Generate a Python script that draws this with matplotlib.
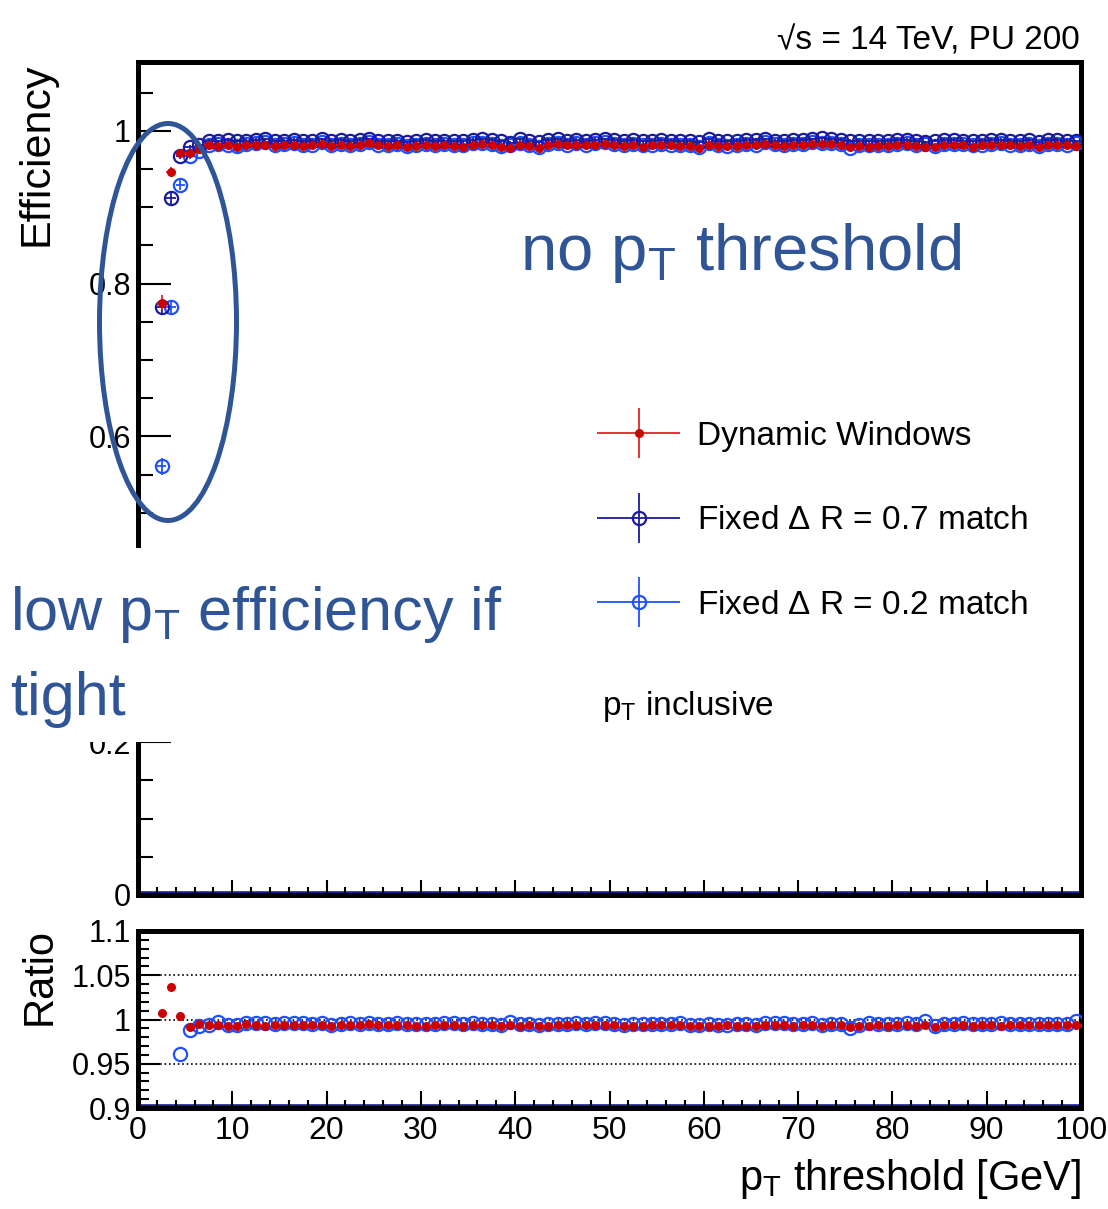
import numpy as np
import matplotlib
matplotlib.use("Agg")
import matplotlib.pyplot as plt
from matplotlib import font_manager
from matplotlib.ticker import MultipleLocator, FormatStrFormatter, FuncFormatter
from matplotlib.patches import Ellipse, Rectangle
from matplotlib.container import ErrorbarContainer
from matplotlib.legend_handler import HandlerErrorbar

plt.rcParams['font.family'] = ['Liberation Sans', 'DejaVu Sans']
plt.rcParams['mathtext.fontset'] = 'custom'
plt.rcParams['mathtext.rm'] = 'Liberation Sans'
plt.rcParams['mathtext.it'] = 'Liberation Sans:italic'
plt.rcParams['mathtext.default'] = 'regular'

# ---------------------------
# Daten
# ---------------------------
pt = np.arange(2.5, 100, 1.0)   # Bin-Mitten, 1 GeV breit

eff_dw = [0.775, 0.946, 0.971, 0.971, 0.976,
          0.981, 0.980, 0.981, 0.979, 0.982, 0.982, 0.982, 0.980, 0.981, 0.982,
          0.980, 0.981, 0.983, 0.980, 0.982, 0.980, 0.982, 0.984, 0.981, 0.980,
          0.981, 0.979, 0.980, 0.981, 0.980, 0.981, 0.980, 0.979, 0.982, 0.983,
          0.982, 0.979, 0.978, 0.982, 0.980, 0.978, 0.981, 0.983, 0.981, 0.982,
          0.981, 0.982, 0.983, 0.982, 0.980, 0.981, 0.979, 0.981, 0.982, 0.981,
          0.980, 0.980, 0.978, 0.982, 0.980, 0.980, 0.980, 0.981, 0.981, 0.983,
          0.981, 0.980, 0.981, 0.982, 0.983, 0.983, 0.983, 0.982, 0.979, 0.980,
          0.979, 0.980, 0.980, 0.982, 0.982, 0.980, 0.979, 0.979, 0.982, 0.982,
          0.981, 0.979, 0.981, 0.982, 0.981, 0.981, 0.980, 0.982, 0.979, 0.982,
          0.982, 0.981, 0.980]

eff_07 = [0.769, 0.912, 0.967, 0.979, 0.981,
          0.987, 0.986, 0.988, 0.986, 0.987, 0.988, 0.989, 0.986, 0.987, 0.988,
          0.986, 0.987, 0.989, 0.987, 0.988, 0.986, 0.988, 0.989, 0.987, 0.986,
          0.987, 0.985, 0.987, 0.988, 0.986, 0.987, 0.986, 0.986, 0.988, 0.989,
          0.988, 0.986, 0.984, 0.989, 0.986, 0.985, 0.988, 0.989, 0.987, 0.988,
          0.987, 0.988, 0.989, 0.988, 0.987, 0.988, 0.986, 0.987, 0.988, 0.987,
          0.986, 0.987, 0.985, 0.989, 0.987, 0.986, 0.987, 0.988, 0.988, 0.989,
          0.987, 0.986, 0.988, 0.988, 0.989, 0.990, 0.989, 0.988, 0.987, 0.987,
          0.986, 0.986, 0.987, 0.988, 0.988, 0.987, 0.985, 0.987, 0.988, 0.988,
          0.987, 0.986, 0.987, 0.988, 0.988, 0.987, 0.986, 0.988, 0.985, 0.988,
          0.988, 0.987, 0.986]

eff_02 = [0.561, 0.769, 0.929, 0.967, 0.974,
          0.981, 0.983, 0.982, 0.980, 0.983, 0.984, 0.985, 0.981, 0.983, 0.984,
          0.982, 0.982, 0.985, 0.981, 0.983, 0.982, 0.983, 0.985, 0.982, 0.981,
          0.983, 0.980, 0.982, 0.983, 0.981, 0.983, 0.982, 0.981, 0.984, 0.984,
          0.983, 0.980, 0.981, 0.984, 0.981, 0.979, 0.983, 0.984, 0.982, 0.984,
          0.982, 0.984, 0.985, 0.983, 0.981, 0.983, 0.981, 0.982, 0.983, 0.982,
          0.982, 0.981, 0.979, 0.984, 0.981, 0.980, 0.982, 0.983, 0.982, 0.985,
          0.983, 0.982, 0.983, 0.983, 0.985, 0.984, 0.984, 0.983, 0.978, 0.981,
          0.982, 0.981, 0.982, 0.983, 0.984, 0.982, 0.983, 0.980, 0.983, 0.983,
          0.983, 0.981, 0.982, 0.983, 0.984, 0.982, 0.981, 0.983, 0.980, 0.983,
          0.983, 0.982, 0.984]

err_dw = [0.010, 0.007, 0.004, 0.003, 0.003] + [0.002] * 93
err_07 = [0.010, 0.008, 0.004, 0.003, 0.003] + [0.002] * 93
err_02 = [0.011, 0.010, 0.007, 0.004, 0.003] + [0.002] * 93

labels = ['Dynamic Windows', r'Fixed $\Delta$ R = 0.7 match', r'Fixed $\Delta$ R = 0.2 match']

ratio_dw = np.array(eff_dw) / np.array(eff_07)
ratio_02 = np.array(eff_02) / np.array(eff_07)

# ---------------------------
# Layout
# ---------------------------
W, H = 1108, 1209
fx = lambda p: p / W
fy = lambda p: 1 - p / H

c_red, c_red_line = '#cc0000', '#e2222a'
c_dark = '#1a1a9e'
c_light = '#1f50ff'
c_note = '#2F5597'

fig = plt.figure(figsize=(W / 100, H / 100), dpi=100)
ax = fig.add_axes([fx(138), fy(895), fx(1081) - fx(138), fy(62) - fy(895)])
axr = fig.add_axes([fx(138), fy(1108), fx(1081) - fx(138), fy(931) - fy(1108)])

# obere Grafik
e02 = ax.errorbar(pt, eff_02, xerr=0.5, yerr=err_02, fmt='o', ms=9.5, mfc='none', mec=c_light,
                  mew=1.6, ecolor=c_light, elinewidth=1.3, capsize=0, zorder=3)
e07 = ax.errorbar(pt, eff_07, xerr=0.5, yerr=err_07, fmt='o', ms=9.5, mfc='none', mec=c_dark,
                  mew=1.6, ecolor=c_dark, elinewidth=1.3, capsize=0, zorder=4)
edw = ax.errorbar(pt, eff_dw, xerr=0.5, yerr=err_dw, fmt='o', ms=6.5, mfc=c_red, mec=c_red,
                  mew=0, ecolor=c_red_line, elinewidth=1.3, capsize=0, zorder=5)
ax.axhline(0, color=c_dark, lw=5.5, zorder=1)

ax.set_xlim(0, 100)
ax.set_ylim(0, 1.09)
ax.xaxis.set_major_locator(MultipleLocator(10))
ax.xaxis.set_minor_locator(MultipleLocator(2))
ax.yaxis.set_major_locator(MultipleLocator(0.2))
ax.yaxis.set_minor_locator(MultipleLocator(0.05))
# 0.4 liegt im Original unter dem weissen Kasten
ax.yaxis.set_major_formatter(FuncFormatter(lambda v, p: '' if abs(v - 0.4) < 1e-6 else f'{v:g}'))
ax.tick_params(axis='y', which='major', direction='in', length=24, width=1.5, labelsize=22, pad=5)
ax.tick_params(axis='y', which='minor', direction='in', length=11, width=1.5)
ax.tick_params(axis='x', which='major', direction='in', length=11, width=1.5, labelbottom=False)
ax.tick_params(axis='x', which='minor', direction='in', length=6, width=1.5)

leg = ax.legend([edw, e07, e02], labels, loc='center left',
                bbox_to_anchor=(fx(597), fy(521)), bbox_transform=fig.transFigure,
                frameon=False, fontsize=24, borderpad=0, borderaxespad=0,
                handlelength=2.5, handletextpad=0.5, labelspacing=1.61,
                handler_map={ErrorbarContainer: HandlerErrorbar(xerr_size=1.25, yerr_size=0.75)})

# Ratio
for y0 in (0.95, 1.0, 1.05):
    axr.axhline(y0, color='black', ls=':', lw=1.2, zorder=1)
axr.plot(pt, ratio_02, 'o', ms=9.5, mfc='none', mec=c_light, mew=1.6, zorder=3)
axr.plot(pt, ratio_dw, 'o', ms=6.5, mfc=c_red, mec=c_red, mew=0, zorder=4)
axr.axhline(0.9, color=c_dark, lw=5.5, zorder=1)

axr.set_xlim(0, 100)
axr.set_ylim(0.9, 1.1)
axr.xaxis.set_major_locator(MultipleLocator(10))
axr.xaxis.set_minor_locator(MultipleLocator(2))
axr.yaxis.set_major_locator(MultipleLocator(0.05))
axr.yaxis.set_minor_locator(MultipleLocator(0.01))
axr.xaxis.set_major_formatter(FormatStrFormatter('%g'))
axr.yaxis.set_major_formatter(FormatStrFormatter('%g'))
axr.tick_params(axis='y', which='major', direction='in', length=16, width=1.5, labelsize=22, pad=5)
axr.tick_params(axis='y', which='minor', direction='in', length=8, width=1.5)
axr.tick_params(axis='x', which='major', direction='in', length=12, width=1.5, labelsize=23, pad=6)
axr.tick_params(axis='x', which='minor', direction='in', length=6, width=1.5)

for a in (ax, axr):
    for s in a.spines.values():
        s.set_linewidth(3.6)

# Achsentitel und Texte
fig.text(fx(37), fy(63), 'Efficiency', rotation=90, ha='center', va='top', fontsize=31)
fig.text(fx(40), fy(928), 'Ratio', rotation=90, ha='center', va='top', fontsize=30)
fig.text(fx(1081), fy(1190), r'p$_{T}$ threshold [GeV]', ha='right', va='baseline', fontsize=30)
fig.text(fx(1080), fy(49), '\u221as = 14 TeV, PU 200', ha='right', va='baseline', fontsize=24)
fig.text(fx(602), fy(715), r'p$_{T}$ inclusive', ha='left', va='baseline', fontsize=24)

# Annotationen
fig.text(fx(520), fy(270), r'no p$_{T}$ threshold', ha='left', va='baseline',
         fontsize=47, color=c_note, zorder=7)
fig.add_artist(Ellipse((fx(168), fy(322)), fx(137), 397 / H, transform=fig.transFigure,
                       fill=False, ec=c_note, lw=3.6, zorder=6))
fig.add_artist(Rectangle((0, fy(742)), fx(505), fy(548) - fy(742), transform=fig.transFigure,
                         fc='white', ec='none', zorder=5))

names = {f.name for f in font_manager.fontManager.ttflist}
if 'Liberation Sans Narrow' in names:
    low_fam, low_fs = ['Liberation Sans Narrow', 'DejaVu Sans'], 53
else:
    low_fam, low_fs = ['Liberation Sans', 'DejaVu Sans'], 44
fig.text(fx(10), fy(630), r'low p$_{T}$ efficiency if', ha='left', va='baseline',
         fontsize=low_fs, family=low_fam, color=c_note, zorder=7)
fig.text(fx(10), fy(715), 'tight', ha='left', va='baseline',
         fontsize=low_fs, family=low_fam, color=c_note, zorder=7)

fig.savefig('out.png', dpi=100)
